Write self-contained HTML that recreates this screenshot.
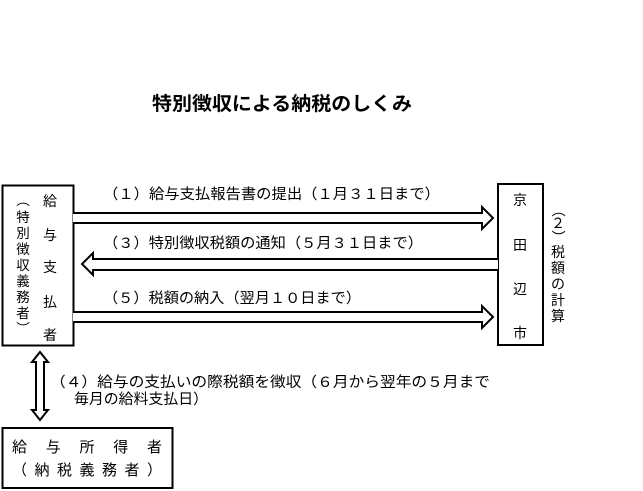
<!DOCTYPE html>
<html><head><meta charset="utf-8"><style>
html,body{margin:0;padding:0;background:#fff;}
svg{display:block;font-family:"Liberation Sans","Noto Sans CJK JP",sans-serif;}
</style></head><body>
<svg width="643" height="491" viewBox="0 0 643 491" xmlns="http://www.w3.org/2000/svg">
<text x="282" y="110" font-size="19" font-weight="bold" text-anchor="middle" textLength="260" lengthAdjust="spacingAndGlyphs">特別徴収による納税のしくみ</text>
<rect x="2.5" y="185.5" width="71" height="160" fill="none" stroke="#000" stroke-width="2"/>
<g font-size="14" text-anchor="middle">
<text x="50" y="206">給</text><text x="50" y="240">与</text><text x="50" y="272">支</text><text x="50" y="307">払</text><text x="50" y="340">者</text>
</g>
<g font-size="13.5" text-anchor="middle">
<text x="23" y="205" transform="rotate(90 23 200)">（</text>
<text x="23" y="222">特</text><text x="23" y="238">別</text><text x="23" y="254">徴</text><text x="23" y="270">収</text><text x="23" y="286">義</text><text x="23" y="302">務</text><text x="23" y="318">者</text>
<text x="23" y="333" transform="rotate(90 23 328)">）</text>
</g>
<rect x="498" y="184" width="45" height="161" fill="none" stroke="#000" stroke-width="2"/>
<g font-size="14" text-anchor="middle">
<text x="520" y="205">京</text><text x="520" y="250">田</text><text x="520" y="294">辺</text><text x="520" y="338">市</text>
</g>
<g font-size="14" text-anchor="middle">
<text x="558" y="215" transform="rotate(90 558 210)">（</text>
<text x="558" y="228">２</text>
<text x="558" y="242" transform="rotate(90 558 237)">）</text>
<text x="558" y="257">税</text><text x="558" y="273">額</text><text x="558" y="289">の</text><text x="558" y="305">計</text><text x="558" y="321">算</text>
</g>
<g fill="none" stroke="#000" stroke-width="2">
<polyline points="73,213 482,213 482,207 493,218 482,229 482,223 73,223" fill="#fff"/>
<polyline points="498,259 93,259 93,253 82,264 93,275 93,270 498,270" fill="#fff"/>
<polyline points="73,312 482,312 482,306 493,317 482,328 482,322 73,322" fill="#fff"/>
<polygon points="40,352 48,362 44,362 44,410 48,410 40,420 32,410 36,410 36,362 32,362" fill="#fff"/>
</g>
<g font-size="14.5">
<text x="103" y="199" textLength="337" lengthAdjust="spacingAndGlyphs">（１）給与支払報告書の提出（１月３１日まで）</text>
<text x="103" y="248" textLength="320" lengthAdjust="spacingAndGlyphs">（３）特別徴収税額の通知（５月３１日まで）</text>
<text x="103" y="303" textLength="258" lengthAdjust="spacingAndGlyphs">（５）税額の納入（翌月１０日まで）</text>
<text x="50" y="387" textLength="440" lengthAdjust="spacingAndGlyphs">（４）給与の支払いの際税額を徴収（６月から翌年の５月まで</text>
<text x="74" y="404" textLength="134" lengthAdjust="spacingAndGlyphs">毎月の給料支払日）</text>
</g>
<rect x="2.5" y="428" width="170" height="60" fill="none" stroke="#000" stroke-width="2"/>
<g font-size="15">
<text x="12" y="452" textLength="150" lengthAdjust="spacing">給　与　所　得　者</text>
<text x="12" y="475" textLength="150" lengthAdjust="spacing">（納税義務者）</text>
</g>
</svg>
</body></html>
